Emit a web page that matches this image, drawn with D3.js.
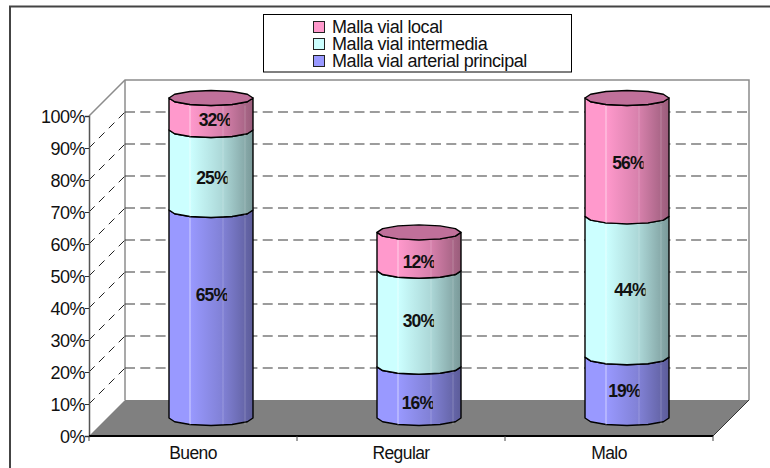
<!DOCTYPE html>
<html>
<head>
<meta charset="utf-8">
<script src="https://cdn.jsdelivr.net/npm/d3@7/dist/d3.min.js"></script>
<style>
  html, body { margin: 0; padding: 0; background: #fff; }
  svg { display: block; }
  text { font-family: "Liberation Sans", Arial, sans-serif; fill: #111; }
</style>
</head>
<body>
<svg id="chart" width="770" height="468"></svg>
<script>
// Road condition by network class: stacked cylinders on a fixed 0-100% axis.
const categories = ["Bueno", "Regular", "Malo"];
const seriesNames = ["Malla vial arterial principal", "Malla vial intermedia", "Malla vial local"];
const arterial = [65, 16, 19];
const intermedia = [25, 30, 44];
const local = [32, 12, 56];
const percentTicks = [0, 10, 20, 30, 40, 50, 60, 70, 80, 90, 100];

// Hand placement of the value labels around each segment's midpoint, [dx, dy].
const nudgeArterial = [[1, -19], [-1, 11], [-2.5, 3]];
const nudgeIntermedia = [[1.5, 8], [0, 2], [3.5, 3]];
const nudgeLocal = [[4, 6], [0, 10], [1.5, 6]];

const palette = [
  { light: "#9999ff", mid: "#8080d4", dark: "#5c5c99", top: "#7a7acc" },
  { light: "#ccffff", mid: "#abd6d6", dark: "#7a9999", top: "#a3cccc" },
  { light: "#ff99cc", mid: "#d680ab", dark: "#995c7a", top: "#c0709a" }
];

const seriesValues = [arterial, intermedia, local];
const nudges = [nudgeArterial, nudgeIntermedia, nudgeLocal];

const svg = d3.select("#chart");
const defs = svg.append("defs");

// Plot box: front edge of the floor plus the depth offset of the back wall.
const frontLeft = 89, frontRight = 713, frontBottom = 436, frontTop = 116, depth = 36;
const radiusX = 42, radiusY = 7.5;

// The axis stops at 100%, so any stack reaching past it is cut at the top.
const y = d3.scaleLinear().domain([0, 100]).range([frontBottom, frontTop]).clamp(true);
const x = d3.scaleBand().domain(categories).range([frontLeft, frontRight]);

// Outer chart frame
svg.append("path")
  .attr("d", "M10,468V6.5H770")
  .attr("fill", "none").attr("stroke", "#444").attr("stroke-width", 2);

// Back wall and side wall outlines
const walls = svg.append("g").attr("fill", "none").attr("stroke", "#8c8c8c").attr("stroke-width", 1.5);
walls.append("path").attr("d",
  `M${frontLeft},${y(100)}L${frontLeft + depth},${y(100) - depth}H${frontRight + depth}V${y(0) - depth}`);
walls.append("path").attr("d", `M${frontLeft + depth},${y(100) - depth}V${y(0) - depth}`);

// Floor
svg.append("path")
  .attr("d", `M${frontLeft},${y(0)}H${frontRight}L${frontRight + depth},${y(0) - depth}H${frontLeft + depth}Z`)
  .attr("fill", "#808080");
svg.append("path")
  .attr("d", `M${frontRight},${y(0)}L${frontRight + depth},${y(0) - depth}`)
  .attr("stroke", "#333").attr("stroke-width", 1);

// Dashed gridlines on both walls
const grid = svg.append("g").attr("fill", "none").attr("stroke", "#3a3a3a")
  .attr("stroke-width", 1.2).attr("stroke-dasharray", "10 5.3");
percentTicks.filter(t => t > 0 && t < 100).forEach(t => {
  grid.append("line")
    .attr("x1", frontLeft + depth).attr("x2", frontRight + depth - 2)
    .attr("y1", y(t) - depth).attr("y2", y(t) - depth);
});
const sideGrid = svg.append("g").attr("stroke", "#222").attr("stroke-width", 1)
  .attr("fill", "none").attr("stroke-dasharray", "8 6");
percentTicks.filter(t => t > 0 && t < 100).forEach(t => {
  sideGrid.append("line")
    .attr("x1", frontLeft).attr("y1", y(t))
    .attr("x2", frontLeft + depth).attr("y2", y(t) - depth);
});

// Value axis
const yAxis = svg.append("g")
  .attr("transform", `translate(${frontLeft},0)`)
  .call(d3.axisLeft(y).tickValues(percentTicks).tickFormat(d => d + "%").tickSize(4).tickPadding(0));
yAxis.select(".domain").attr("stroke", "#555").attr("stroke-width", 1.5);
yAxis.selectAll(".tick line").attr("stroke", "#333");
yAxis.selectAll(".tick text")
  .attr("font-size", 18).attr("letter-spacing", "-0.5").attr("dy", "0.36em")
  .style("font-family", '"Liberation Sans", Arial, sans-serif').attr("fill", "#111");

// Category axis
const xAxis = svg.append("g")
  .attr("transform", `translate(0,${frontBottom})`)
  .call(d3.axisBottom(x).tickSize(0).tickPadding(11));
xAxis.select(".domain").remove();
xAxis.selectAll(".tick text")
  .attr("font-size", 17.5).attr("letter-spacing", "-0.6")
  .style("font-family", '"Liberation Sans", Arial, sans-serif').attr("fill", "#111");
svg.append("line")
  .attr("x1", frontLeft).attr("x2", frontRight)
  .attr("y1", y(0)).attr("y2", y(0))
  .attr("stroke", "#000").attr("stroke-width", 2);
const boundaries = categories.map(c => x(c)).concat(x(categories[categories.length - 1]) + x.bandwidth());
svg.append("g").selectAll("line").data(boundaries).join("line")
  .attr("x1", d => d).attr("x2", d => d)
  .attr("y1", y(0)).attr("y2", y(0) + 5)
  .attr("stroke", "#444");

// Body shading for each series
palette.forEach((p, i) => {
  const g = defs.append("linearGradient").attr("id", "body" + i);
  [[0, p.light], [0.25, p.light], [0.65, p.mid], [1, p.dark]].forEach(([o, c]) =>
    g.append("stop").attr("offset", o).attr("stop-color", c));
});

// Faceted ellipse points, walking the front edge from left to right
const facets = 12;
function frontArc(cx, cy) {
  return d3.range(0, facets / 2 + 1).map(k => {
    const a = Math.PI - (k / (facets / 2)) * Math.PI;
    return [cx + radiusX * Math.cos(a), cy + radiusY * Math.sin(a)];
  });
}
function backArc(cx, cy) {
  return frontArc(cx, cy).map(([px, py]) => [px, 2 * cy - py]);
}
const polyline = d3.line();

const cylinders = svg.append("g");
categories.forEach((cat, ci) => {
  const cx = x(cat) + x.bandwidth() / 2 + depth / 2;
  let running = 0;
  seriesValues.forEach((values, si) => {
    const v = values[ci];
    const base = y(running) - depth / 2;
    const head = y(running + v) - depth / 2;
    const lower = frontArc(cx, base);
    const upper = frontArc(cx, head).reverse();
    cylinders.append("path")
      .attr("d", polyline(lower.concat(upper)) + "Z")
      .attr("fill", `url(#body${si})`)
      .attr("stroke", "#000").attr("stroke-width", 1.4).attr("stroke-linejoin", "round");

    // Thin facet highlights down the body
    [-21, 12, 34].forEach(dx => {
      cylinders.append("line")
        .attr("x1", cx + dx).attr("x2", cx + dx)
        .attr("y1", head + radiusY).attr("y2", base + radiusY - 1)
        .attr("stroke", "#fff").attr("stroke-opacity", dx === -21 ? 0.55 : 0.2);
    });

    if (si === seriesValues.length - 1) {
      const rim = frontArc(cx, head).concat(backArc(cx, head).reverse().slice(1, -1));
      cylinders.append("path")
        .attr("d", polyline(rim) + "Z")
        .attr("fill", palette[si].top)
        .attr("stroke", "#000").attr("stroke-width", 1.4).attr("stroke-linejoin", "round");
    }
    running += v;
  });
});

// Value labels; the last glyph is trimmed at the label's box, as the chart renders it
const labels = svg.append("g");
categories.forEach((cat, ci) => {
  const cx = x(cat) + x.bandwidth() / 2 + depth / 2;
  let running = 0;
  seriesValues.forEach((values, si) => {
    const v = values[ci];
    const mid = (y(running) + y(running + v)) / 2 - depth / 2;
    const [dx, dy] = nudges[si][ci];
    const id = `trim-${ci}-${si}`;
    const t = labels.append("text")
      .attr("x", cx + dx).attr("y", mid + dy + 6)
      .attr("text-anchor", "middle")
      .attr("font-size", 17.5).attr("font-weight", "bold").attr("letter-spacing", "-0.8")
      .attr("fill", "#000")
      .text(v + "%");
    const box = t.node().getBBox();
    defs.append("clipPath").attr("id", id).append("rect")
      .attr("x", box.x - 2).attr("y", box.y - 2)
      .attr("width", box.width - 0.5).attr("height", box.height + 4);
    t.attr("clip-path", `url(#${id})`);
    running += v;
  });
});

// Legend, listed from the top of the stack down
const legend = svg.append("g");
legend.append("rect")
  .attr("x", 263.5).attr("y", 14.5).attr("width", 308).attr("height", 57.5)
  .attr("fill", "#fff").attr("stroke", "#000").attr("stroke-width", 1);
const legendRows = seriesNames.map((name, i) => ({ name, i })).reverse();
const row = d3.scalePoint().domain(legendRows.map(d => d.name)).range([27, 61]);
legendRows.forEach(d => {
  legend.append("rect")
    .attr("x", 313.5).attr("y", row(d.name) - 5.5).attr("width", 11).attr("height", 11)
    .attr("fill", palette[d.i].light).attr("stroke", "#222").attr("stroke-width", 1);
  legend.append("text")
    .attr("x", 332).attr("y", row(d.name) + 6)
    .attr("font-size", 18).attr("letter-spacing", "-0.42").attr("fill", "#111")
    .text(d.name);
});
</script>
</body>
</html>
